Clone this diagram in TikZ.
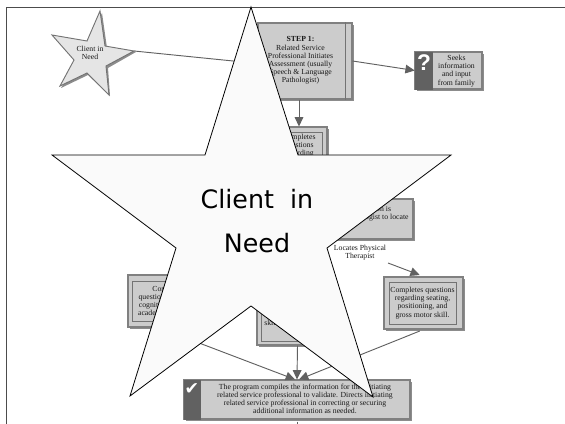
\documentclass[tikz,border=0pt]{standalone}
\usepackage{fontspec}
\setmainfont{Liberation Serif}
\newfontfamily\starfont{DejaVu Sans}
\newfontfamily\questfont{Liberation Sans}
\usetikzlibrary{positioning,arrows.meta,shadows}

\begin{document}
\begin{tikzpicture}[
    x=0.75pt, y=-0.75pt,
    lbl/.style={font=\fontsize{5.8pt}{6.1pt}\selectfont, align=center, inner sep=0pt, text=black!90},
    size/.style 2 args={minimum width=#1*0.75pt, minimum height=#2*0.75pt},
    box/.style={draw=black!50, line width=0.8pt, fill=black!20, inner sep=0pt, drop shadow={shadow xshift=1.5pt, shadow yshift=-1.5pt, fill=black!45, opacity=1}},
    innerbox/.style={lbl, draw=black!55, line width=0.6pt},
    bar/.style={fill=black!62, draw=black!62, inner sep=0pt},
    arrow/.style={-{Triangle[length=7pt,width=6.5pt]}, draw=black!62, line width=0.7pt},
    plain/.style={draw=black!62, line width=0.7pt},
    bigstar/.style={draw=black, line width=0.6pt, fill=black!2}
]
\useasboundingbox (0,0) rectangle (565,424);

% Frame
\draw[black!70, line width=0.7pt] (6,424) -- (6,7.5) -- (565,7.5);

% Small star
\fill[black!45] (102,13) -- (107,48) -- (136,52) -- (108,68) -- (110,96) -- (88,75) -- (61,88) -- (76,62) -- (54,37) -- (89,43) -- cycle;
\draw[draw=black!55, line width=0.7pt, fill=black!10] (100,11) -- (105,46) -- (134,51) -- (106,66) -- (109,95) -- (87,73) -- (60,86) -- (74,60) -- (52,35) -- (87,41) -- cycle;
\node[lbl] (smallstar) at (90,53) {Client in\\Need};
\coordinate (startip) at (134,51);

% Boxes
\node[box, size={94}{76}] (stepone) at (305,61) {};
\draw[black!55, line width=0.7pt] ([xshift=-5.25pt]stepone.north east) -- ([xshift=-5.25pt]stepone.south east);
\node[lbl] (steptext) at (300.5,60.5) {\textbf{STEP 1:}\\Related Service\\Professional Initiates\\Assessment (usually\\Speech \& Language\\Pathologist)};
\coordinate (stepin) at (258,63.5);

\node[box, size={67}{37}] (seeksbox) at (448.5,70.5) {};
\node[bar, size={17}{37}] (seeksbar) at (423.5,70.5) {};
\node[font=\questfont\bfseries\fontsize{17pt}{17pt}\selectfont, text=white, inner sep=0pt] (quest) at (424,63) {?};
\node[lbl] (seeks) at (456.5,71) {Seeks\\information\\and input\\from family};

\node[box, size={56}{61}] (completesbox) at (299,157.5) {};
\node[innerbox, size={47}{52}] (completesframe) at (298.5,158) {};
\node[lbl, anchor=north] (completes) at (299,134) {Completes\\questions\\regarding};

\node[box, size={93}{40}] (locatebox) at (366.5,219) {};
\node[lbl] (locate) at (377,214) {Person is\\Pathologist to locate};

\node[lbl] (locates) at (360,253) {Locates Physical\\Therapist};
\coordinate (locfrom) at (388,263);

\node[box, size={82}{52}] (acadbox) at (169,301) {};
\node[innerbox, size={74}{40}] (acad) at (169,301) {Completes\\questions regarding\\cognitive skills and\\academic readiness.};
\coordinate (acadfrom) at (195,245);

\node[box, size={81}{52}] (skillbox) at (297.5,319) {};
\node[innerbox, size={73}{43}] (skillframe) at (297.5,319.5) {};
\node[lbl] (skill) at (297,311) {Completes questions\\regarding speech,\\language, and oral\\skills and fine motor.};

\node[box, size={79}{52}] (motorbox) at (423.5,303) {};
\node[innerbox, size={67}{42}] (motor) at (422.5,303) {Completes questions\\regarding seating,\\positioning, and\\gross motor skill.};

\node[box, size={226}{39}] (programbox) at (297,399.5) {};
\node[bar, size={16}{39}] (programbar) at (192,399.5) {};
\node[font=\starfont\fontsize{13pt}{13pt}\selectfont, text=white, inner sep=0pt] (tick) at (192,389) {\char"2714};
\node[lbl] (program) at (305,399) {The program compiles the information for the initiating\\related service professional to validate. Directs initiating\\related service professional in correcting or securing\\additional information as needed.};
\coordinate (tail) at (297,424);

% Connectors
\draw[plain] (startip) -- (stepin);
\draw[arrow] (stepone.east) -- (seeksbar.west);
\draw[arrow] (stepone.south -| completesbox.north) -- (completesbox.north);
\draw[arrow, shorten >=3pt] (locfrom) -- (motorbox.north);
\draw[arrow, shorten >=1.5pt] (acadfrom) -- (acadbox.north);
\draw[arrow] (skillbox.south) -- (programbox.north);
\draw[arrow, shorten <=3pt] (motorbox.south) -- ([xshift=1.5pt]programbox.north);
\draw[arrow] ([yshift=-3pt]acadbox.south) -- ([xshift=-1.5pt]programbox.north);
\draw[plain, shorten <=1.5pt] (programbox.south) -- (tail);

% Big star
\draw[bigstar] (251,7) -- (298,155) -- (451,155) -- (327,248) -- (373,397) -- (251,306) -- (130,396) -- (176,248) -- (52,155) -- (205,155) -- cycle;
\node[font=\starfont\fontsize{19pt}{33pt}\selectfont, align=center, inner sep=0pt] (bigtext) at (257,221) {Client\ \ in\\Need};
\end{tikzpicture}
\end{document}
